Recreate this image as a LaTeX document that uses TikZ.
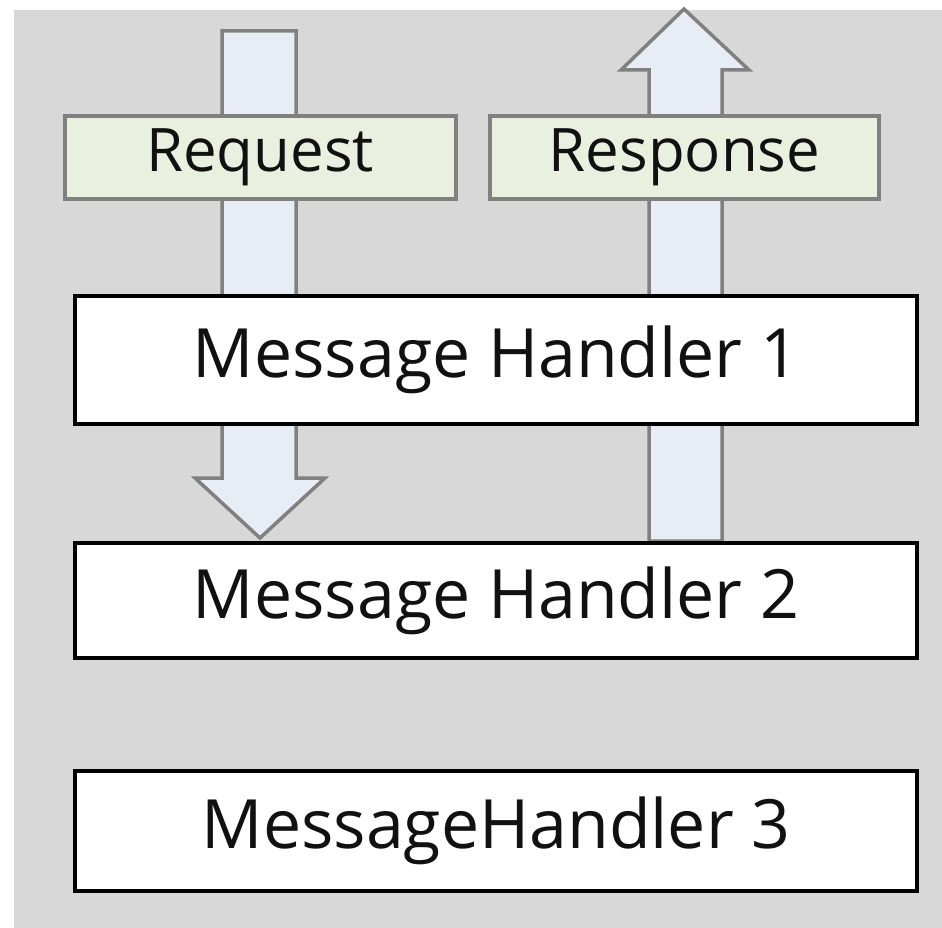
\documentclass[tikz,border=0pt]{standalone}
\usepackage{fontspec}
\setmainfont{Open Sans}
\definecolor{panelgray}{HTML}{D8D8D8}
\definecolor{edgegray}{HTML}{808080}
\definecolor{flowfill}{HTML}{E8EDF5}
\definecolor{tagfill}{HTML}{E9F0DF}
\definecolor{inktext}{HTML}{111111}
\begin{document}
\begin{tikzpicture}[x=1pt,y=-1pt,
  handler/.style={draw=black,line width=4pt,fill=white,inner sep=0pt,
    minimum width=842pt,minimum height=128pt,text=inktext,
    font=\fontsize{68}{68}\selectfont},
  tag/.style={draw=edgegray,line width=4pt,fill=tagfill,inner sep=0pt,
    minimum height=83pt,text=inktext,font=\fontsize{60}{60}\selectfont},
  flow/.style={draw=edgegray,line width=3.5pt,fill=flowfill,line join=miter}]
\useasboundingbox (0,0) rectangle (942,928);
\fill[white] (0,0) rectangle (942,928);
\fill[panelgray] (14,10) rectangle (942,928);

% request path going down into the second handler
\draw[flow] (222,31) -- (296,31) -- (296,478) -- (325,478) -- (260,538)
  -- (195,478) -- (222,478) -- cycle;
% response path coming back up from the second handler
\draw[flow] (649,541) -- (649,70) -- (621,70) -- (684,9) -- (749,70)
  -- (722,70) -- (722,541) -- cycle;

\node[tag,minimum width=391pt] (req) at (260,157.5) {Request};
\node[tag,minimum width=389pt] (resp) at (684.5,157.5) {Response};

\node[handler] (h1) at (496,360) {Message Handler 1};
\node[handler,minimum height=115pt] (h2) at (496,600.5) {Message Handler 2};
\node[handler,minimum height=120pt] (h3) at (496,831) {MessageHandler 3};
\end{tikzpicture}
\end{document}
